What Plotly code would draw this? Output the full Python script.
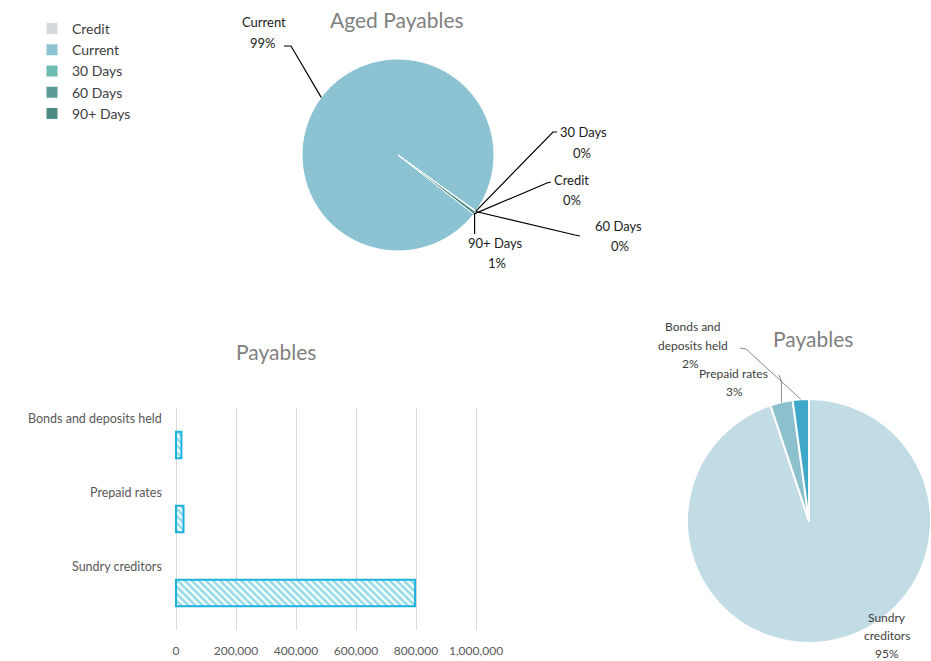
import math
import plotly.graph_objects as go

W, H = 931, 661

# Aged payables by age bucket (amounts)
aged_labels = ["Credit", "Current", "30 Days", "60 Days", "90+ Days"]
aged_values = [0, 833500, 400, 600, 4300]
aged_colors = ["#d6d9db", "#8cc3d3", "#6dbcb0", "#5a9b95", "#4a8a83"]

# Payables by category (bottom-to-top in the bar chart, clockwise in the pie)
pay_labels = ["Sundry creditors", "Prepaid rates", "Bonds and deposits held"]
pay_values = [797000, 25000, 18000]
pay_colors = ["#c2dce6", "#8cc0cc", "#3fa8c8"]

x_ticks = [0, 200000, 400000, 600000, 800000, 1000000]
x_range = [-4000, 1006000]

FONT = "Lato"

# pie boxes in pixels: (x0, y0, x1, y1)
AGED_BOX = (302, 59, 494, 251)
PAY_BOX = (687, 399, 931, 643)
AGED_ROT = 128
PAY_ROT = 0

# bar plot area in pixels: zero at X0, 1,000,000 at X1
X0, X1 = 176, 476


def px(x):
    return x / W


def py(y):
    return 1 - y / H


def dom(box):
    x0, y0, x1, y1 = box
    return dict(x=[px(x0), px(x1)], y=[py(y1), py(y0)])


def rim_point(box, rotation, values, idx, frac=0.5):
    x0, y0, x1, y1 = box
    cx, cy = (x0 + x1) / 2, (y0 + y1) / 2
    r = min(x1 - x0, y1 - y0) / 2
    total = sum(values)
    a = rotation + 360 * (sum(values[:idx]) + values[idx] * frac) / total
    a = math.radians(a)
    return cx + r * math.sin(a), cy - r * math.cos(a)


def pct(values, idx):
    return f"{round(100 * values[idx] / sum(values))}%"


fig = go.Figure()

fig.add_trace(go.Pie(
    labels=aged_labels, values=aged_values, sort=False,
    direction="clockwise", rotation=AGED_ROT,
    marker=dict(colors=aged_colors, line=dict(color="white", width=1)),
    textinfo="none", hoverinfo="label+percent", domain=dom(AGED_BOX),
    showlegend=True, automargin=False,
))

fig.add_trace(go.Pie(
    labels=pay_labels, values=pay_values, sort=False,
    direction="clockwise", rotation=PAY_ROT,
    marker=dict(colors=pay_colors, line=dict(color="white", width=2)),
    textinfo="none", hoverinfo="label+percent", domain=dom(PAY_BOX),
    showlegend=False, automargin=False,
))

fig.add_trace(go.Bar(
    y=pay_labels, x=pay_values, orientation="h",
    marker=dict(
        color="white",
        line=dict(color="#1db1de", width=2),
        pattern=dict(shape="\\", fgcolor="#2fb9d2", size=5, solidity=0.55),
    ),
    showlegend=False, xaxis="x", yaxis="y",
))

annotations = []
shapes = []


def text(x, y, s, size=13, color="#1a1a1a", xanchor="center"):
    annotations.append(dict(
        x=px(x), y=py(y), xref="paper", yref="paper", text=s, showarrow=False,
        xanchor=xanchor, yanchor="middle",
        font=dict(family=FONT, size=size, color=color),
    ))


def leader(points, color="#000000", width=1.2):
    path = "M " + " L ".join(f"{px(a)},{py(b)}" for a, b in points)
    shapes.append(dict(type="path", path=path, xref="paper", yref="paper",
                       line=dict(color=color, width=width)))


# titles
TITLE = dict(family=FONT, size=21, color="#808080")
for x, y, s in [(397, 20, "Aged Payables"), (276, 351, "Payables"), (813, 338, "Payables")]:
    annotations.append(dict(x=px(x), y=py(y), xref="paper", yref="paper", text=s,
                            showarrow=False, xanchor="center", yanchor="middle",
                            font=TITLE))

# aged payables data labels: name position, percent position, leader start
aged_lbl = {
    "Current": ((264, 22), (263, 43), [(284, 46), (291, 46)]),
    "30 Days": ((583, 132), (582, 153), [(557, 132), (553, 132)]),
    "Credit": ((571, 180), (572, 200), [(551, 182), (547, 183)]),
    "60 Days": ((618, 226), (620, 246), [(580, 236), (575, 235)]),
    "90+ Days": ((495, 243), (497, 263), None),
}
for i, name in enumerate(aged_labels):
    (nx, ny), (qx, qy), head = aged_lbl[name]
    text(nx, ny, name)
    text(qx, qy, pct(aged_values, i))
    anchor = rim_point(AGED_BOX, AGED_ROT, aged_values, i)
    if head is None:
        leader([anchor, (anchor[0], 234)])
    else:
        leader(head + [anchor])

# payables pie data labels
GREY = "#404040"
text(693, 327, "Bonds and", 12, GREY)
text(693, 345, "deposits held", 12, GREY)
text(690, 363, pct(pay_values, 2), 12, GREY)
leader([(740, 348), (746, 349), rim_point(PAY_BOX, PAY_ROT, pay_values, 2)], "#8a8a8a", 1)

text(733, 373, "Prepaid rates", 12, GREY)
text(734, 391, pct(pay_values, 1), 12, GREY)
a = rim_point(PAY_BOX, PAY_ROT, pay_values, 1)
leader([(779, 375), (a[0], 381), a], "#8a8a8a", 1)

text(887, 617, "Sundry", 12, GREY)
text(887, 635, "creditors", 12, GREY)
text(887, 653, pct(pay_values, 0), 12, GREY)

# x-axis domain so that 0 and 1,000,000 land on X0 and X1
scale = (X1 - X0) / (x_ticks[-1] - x_ticks[0])
dx0 = X0 + (x_range[0] - x_ticks[0]) * scale
dx1 = X0 + (x_range[1] - x_ticks[0]) * scale

fig.update_layout(
    width=W, height=H,
    margin=dict(l=0, r=0, t=0, b=0, autoexpand=False),
    paper_bgcolor="white", plot_bgcolor="white",
    font=dict(family=FONT, color="#595959"),
    bargap=0.64,
    legend=dict(
        x=px(32), y=py(13), xanchor="left", yanchor="top",
        font=dict(family=FONT, size=14, color="#404040"),
        bgcolor="rgba(0,0,0,0)", traceorder="normal",
    ),
    xaxis=dict(
        domain=[px(dx0), px(dx1)], anchor="y", automargin=False,
        range=x_range, tickvals=x_ticks, tickformat=",d",
        showgrid=True, gridcolor="#d9d9d9", gridwidth=1,
        zeroline=False, showline=False, ticks="",
        tickfont=dict(family=FONT, size=12, color="#595959"),
        ticklabelstandoff=12, fixedrange=True,
    ),
    yaxis=dict(
        domain=[py(630), py(408)], anchor="x", automargin=False,
        categoryorder="array", categoryarray=pay_labels,
        showgrid=False, zeroline=False, showline=False, ticks="",
        tickfont=dict(family=FONT, size=12.5, color="#595959"),
        ticklabelstandoff=12, ticklabelshift=-26, fixedrange=True,
    ),
    annotations=annotations,
    shapes=shapes,
)

fig.write_html("out.html")
